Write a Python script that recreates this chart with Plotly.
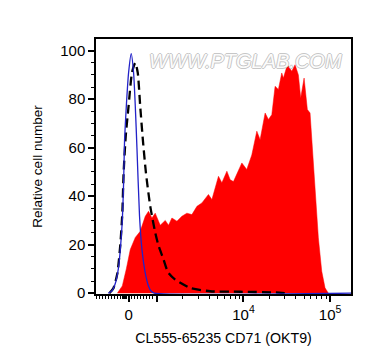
import plotly.graph_objects as go

# Display coordinate: decades (10^3 -> 3, 10^4 -> 4, 10^5 -> 5), biexponential-like near 0
RED_X = [2.542, 2.600, 2.646, 2.692, 2.750, 2.807, 2.865, 2.903, 2.942, 2.980, 3.038, 3.096,
         3.134, 3.173, 3.231, 3.288, 3.346, 3.404, 3.462, 3.519, 3.595, 3.635, 3.711, 3.750,
         3.808, 3.846, 3.884, 3.942, 3.981, 4.038, 4.096, 4.154, 4.192, 4.250, 4.288, 4.327,
         4.365, 4.403, 4.442, 4.461, 4.507, 4.558, 4.596, 4.634, 4.661, 4.700, 4.738, 4.769,
         4.827, 4.865, 4.904, 4.942, 4.980]
RED_Y = [0, 3, 10, 18, 23, 25.5, 31.7, 33.8, 31, 33, 28, 30,
         28, 31, 29.7, 31.7, 33, 32.4, 35.8, 37.2, 40.7, 38.6, 48.2, 45.5,
         50.3, 46.8, 46, 51, 53.7, 51, 57, 66.8, 63.3, 74.3, 71.6, 73.6,
         85.3, 84, 90.8, 88.7, 94.2, 91.5, 94.2, 90, 80.5, 88.7, 75.7, 74.3,
         40.7, 22.8, 9, 2.2, 0]

BLUE_X = [2.438, 2.481, 2.519, 2.554, 2.577, 2.600, 2.615, 2.626, 2.646, 2.672, 2.703,
          2.730, 2.750, 2.769, 2.799, 2.827, 2.865, 2.903, 2.934, 2.969, 5.242]
BLUE_Y = [0, 1, 4, 10, 18, 30, 45.5, 63, 77, 90.8, 98.8,
          91, 77, 60, 31.7, 18, 8.4, 2.9, 0.8, 0, 0]

DASH_X = [2.450, 2.496, 2.542, 2.577, 2.600, 2.615, 2.640, 2.672, 2.712, 2.750, 2.778,
          2.807, 2.838, 2.873, 2.923, 2.980, 3.015, 3.076, 3.130, 3.211, 3.384, 3.615,
          3.961, 4.376, 4.480]
DASH_Y = [0, 2, 8, 20, 33, 49.6, 65, 77, 91, 95, 91,
          77, 63, 49.6, 35.8, 25, 20, 13.9, 8.5, 5.6, 2.2, 0.8,
          0.6, 0.3, 0]

X_TICK_VALS = [2.672, 3, 4, 5]
X_TICK_TEXT = ["0", "", "10<sup>4</sup>", "10<sup>5</sup>"]
X_MINOR_VALS = [2.300, 2.334, 2.369, 2.403, 2.438, 2.473, 2.507, 2.542, 2.577,
                2.605, 2.617, 2.628, 2.640, 2.652,
                2.703, 2.738, 2.773, 2.807, 2.842, 2.877, 2.911, 2.946,
                3.301, 3.477, 3.602, 3.699, 3.778, 3.845, 3.903, 3.954,
                4.301, 4.477, 4.602, 4.699, 4.778, 4.845, 4.903, 4.954]
Y_TICK_VALS = [0, 20, 40, 60, 80, 100]

FONT = "Liberation Sans, Arial, sans-serif"

fig = go.Figure()
fig.add_trace(go.Scatter(x=RED_X, y=RED_Y, mode="lines", fill="tozeroy",
                         fillcolor="#ff0000", line=dict(color="#ff0000", width=0.5),
                         hoverinfo="skip", showlegend=False))
fig.add_trace(go.Scatter(x=DASH_X, y=DASH_Y, mode="lines",
                         line=dict(color="black", width=2.3, dash="9px,5px", shape="spline", smoothing=0.6),
                         hoverinfo="skip", showlegend=False))
fig.add_trace(go.Scatter(x=BLUE_X, y=BLUE_Y, mode="lines",
                         line=dict(color="#2222c8", width=1.3, shape="spline", smoothing=0.6),
                         hoverinfo="skip", showlegend=False))

fig.update_layout(
    width=372, height=364,
    margin=dict(l=96, r=21, t=39, b=70),
    paper_bgcolor="white", plot_bgcolor="white",
    font=dict(family=FONT, color="black"),
    xaxis=dict(range=[2.296, 5.242], showgrid=False, zeroline=False, automargin=False,
               tickmode="array", tickvals=X_TICK_VALS, ticktext=X_TICK_TEXT,
               ticks="outside", ticklen=6, tickwidth=1.5, tickcolor="black",
               tickfont=dict(size=15, family=FONT, color="black"),
               minor=dict(tickvals=X_MINOR_VALS, ticks="outside", ticklen=3,
                          tickwidth=1, tickcolor="black"),
               showline=True, linecolor="black", linewidth=1.5, mirror=True,
               title=dict(text="CL555-65235 CD71 (OKT9)", font=dict(size=14.2, family=FONT),
                          standoff=11)),
    yaxis=dict(range=[-0.33, 104.8], showgrid=False, zeroline=False, automargin=False,
               tickmode="array", tickvals=Y_TICK_VALS,
               ticks="outside", ticklen=6, tickwidth=1.5, tickcolor="black",
               tickfont=dict(size=15, family=FONT, color="black"),
               minor=dict(dtick=5, ticks="outside", ticklen=3, tickwidth=1, tickcolor="black"),
               showline=True, linecolor="black", linewidth=1.5, mirror=True,
               title=dict(text="Relative cell number", font=dict(size=13.5, family=FONT),
                          standoff=14)),
    annotations=[dict(text="WWW.PTGLAB.COM", x=0.972, y=0.915, xref="paper", yref="paper",
                      xanchor="right", yanchor="middle", showarrow=False,
                      font=dict(size=20, family=FONT, color="rgba(255,255,255,0.95)",
                                style="italic",
                                shadow="1px 0 0 #c4c4c4, -1px 0 0 #c4c4c4, 0 1px 0 #c4c4c4, 0 -1px 0 #c4c4c4"))],
)

fig.write_html("out.html", config={"displayModeBar": False},
               post_script="document.body.style.margin='0';")
